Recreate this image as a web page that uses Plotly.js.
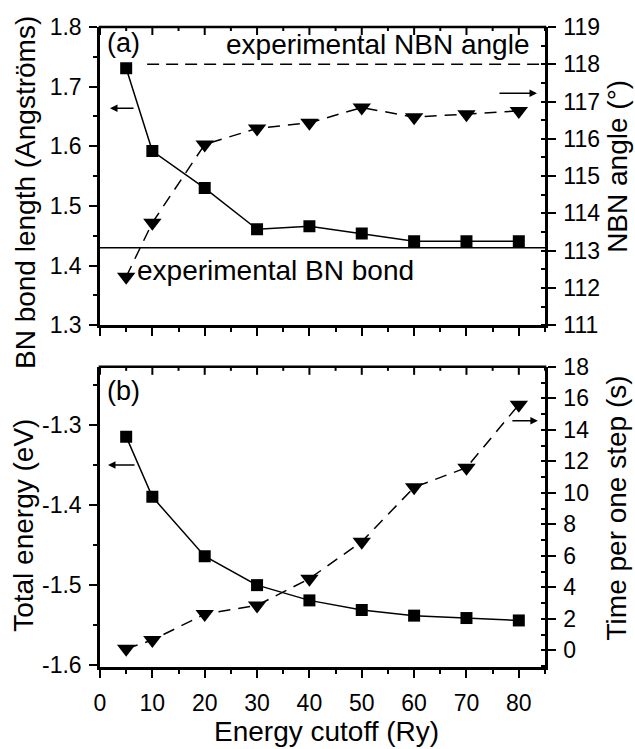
<!DOCTYPE html>
<html>
<head>
<meta charset="utf-8">
<script src="https://cdn.plot.ly/plotly-3.0.1.min.js"></script>
<style>html,body{margin:0;padding:0;background:#fff;}#chart{width:635px;height:749px;}</style>
</head>
<body>
<div id="chart"></div>
<script>
// ---- data ----
const cutoff = [5, 10, 20, 30, 40, 50, 60, 70, 80];
const bondLength = [1.731, 1.592, 1.530, 1.461, 1.466, 1.454, 1.441, 1.441, 1.441];
const nbnAngle = [112.3, 113.75, 115.85, 116.28, 116.43, 116.84, 116.58, 116.66, 116.75];
const totalEnergy = [-1.315, -1.390, -1.464, -1.500, -1.519, -1.531, -1.538, -1.541, -1.544];
const stepTime = [0.1, 0.65, 2.3, 2.85, 4.55, 6.9, 10.35, 11.6, 15.6];
const expBondX = [0, 85];
const expBond = [1.43, 1.43];
const expAngleX = [9, 85];
const expAngle = [118, 118];

const xTickVals = [0, 10, 20, 30, 40, 50, 60, 70, 80];
const xTickText = ['0', '10', '20', '30', '40', '50', '60', '70', '80'];
const bondTickVals = [1.3, 1.4, 1.5, 1.6, 1.7, 1.8];
const bondTickText = ['1.3', '1.4', '1.5', '1.6', '1.7', '1.8'];
const angleTickVals = [111, 112, 113, 114, 115, 116, 117, 118, 119];
const angleTickText = ['111', '112', '113', '114', '115', '116', '117', '118', '119'];
const energyTickVals = [-1.6, -1.5, -1.4, -1.3];
const energyTickText = ['-1.6', '-1.5', '-1.4', '-1.3'];
const timeTickVals = [0, 2, 4, 6, 8, 10, 12, 14, 16, 18];
const timeTickText = ['0', '2', '4', '6', '8', '10', '12', '14', '16', '18'];

// ---- styles ----
const FONT = 'Liberation Sans, Arial, sans-serif';
const black = '#000';
const lineW = 2.5;

const traces = [
  {x: expBondX, y: expBond, xaxis: 'x2', yaxis: 'y3', mode: 'lines',
   line: {color: black, width: 1.5}, hoverinfo: 'skip', showlegend: false},
  {x: cutoff, y: bondLength, xaxis: 'x2', yaxis: 'y3', mode: 'lines+markers',
   line: {color: black, width: 1.5},
   marker: {symbol: 'square', size: 12, color: black}, showlegend: false},
  {x: expAngleX, y: expAngle, xaxis: 'x2', yaxis: 'y4', mode: 'lines',
   line: {color: black, width: 1.5, dash: '12px,7px'}, hoverinfo: 'skip', showlegend: false},
  {x: cutoff, y: nbnAngle, xaxis: 'x2', yaxis: 'y4', mode: 'lines+markers',
   line: {color: black, width: 1.5, dash: '12px,8px'},
   marker: {symbol: 'triangle-down', size: 16, color: black}, showlegend: false},
  {x: cutoff, y: totalEnergy, xaxis: 'x', yaxis: 'y', mode: 'lines+markers',
   line: {color: black, width: 1.5},
   marker: {symbol: 'square', size: 12, color: black}, showlegend: false},
  {x: cutoff, y: stepTime, xaxis: 'x', yaxis: 'y2', mode: 'lines+markers',
   line: {color: black, width: 1.5, dash: '12px,8px'},
   marker: {symbol: 'triangle-down', size: 16, color: black}, showlegend: false}
];

const tickFont = {family: FONT, size: 23, color: black};

function xAxisBase(extra) {
  return Object.assign({
    range: [0, 85], showgrid: false, zeroline: false,
    showline: true, linecolor: black, linewidth: lineW,
    tickmode: 'array', tickvals: xTickVals, ticktext: xTickText,
    ticks: 'outside', ticklen: 8, tickwidth: 2, tickcolor: black,
    minor: {dtick: 5, tick0: 0, ticks: 'outside', ticklen: 4, tickwidth: 2, tickcolor: black},
    tickfont: tickFont
  }, extra);
}
function yAxisBase(extra) {
  return Object.assign({
    showgrid: false, zeroline: false,
    showline: true, linecolor: black, linewidth: lineW,
    tickmode: 'array',
    ticks: 'outside', ticklen: 8, tickwidth: 2, tickcolor: black,
    tickfont: tickFont, ticklabelstandoff: 3
  }, extra);
}

function title(text, x, y, angle) {
  return {text: text, xref: 'paper', yref: 'paper', x: x, y: y, textangle: angle || 0,
    showarrow: false, xanchor: 'center', yanchor: 'middle', font: {size: 28, family: FONT, color: black}};
}
function label(text, x, y, anchor, size) {
  return {text: text, xref: 'paper', yref: 'paper', x: x, y: y, showarrow: false,
    xanchor: anchor, yanchor: 'middle', font: {size: size, family: FONT, color: black}};
}
function arrow(x, y, dx) {
  return {text: '', xref: 'paper', yref: 'paper', x: x, y: y, axref: 'pixel', ayref: 'pixel', ax: dx, ay: 0,
    showarrow: true, arrowhead: 2, arrowsize: 1, arrowwidth: 1.5, arrowcolor: black, standoff: 0, startstandoff: 0};
}

// top frame edge of each panel, with ticks pointing into the plot
// (x positions through the panel's x axis, y in paper units so nothing is clipped)
function topFrame(xref, yTop) {
  const out = [{type: 'line', xref: 'paper', yref: 'paper', x0: -0.003, x1: 1.003, y0: yTop, y1: yTop,
    line: {color: black, width: lineW}}];
  xTickVals.forEach(function(v) {
    out.push({type: 'line', xref: xref, yref: 'paper', x0: v, x1: v, y0: yTop, y1: yTop - 8 / 640,
      line: {color: black, width: 2}});
    out.push({type: 'line', xref: xref, yref: 'paper', x0: v + 5, x1: v + 5, y0: yTop, y1: yTop - 4 / 640,
      line: {color: black, width: 2}});
  });
  return out;
}

const layout = {
  width: 635, height: 749,
  margin: {l: 100, r: 90, t: 27, b: 82},
  showlegend: false,
  // bottom panel
  xaxis: xAxisBase({domain: [0, 1], anchor: 'y', ticklabelstandoff: 6}),
  yaxis: yAxisBase({domain: [0, 0.469], anchor: 'x', range: [-1.602, -1.228],
    tickvals: energyTickVals, ticktext: energyTickText,
    minor: {dtick: 0.05, tick0: -1.6, ticks: 'outside', ticklen: 4, tickwidth: 2, tickcolor: black}}),
  yaxis2: yAxisBase({overlaying: 'y', anchor: 'x', side: 'right', range: [-1.06, 18],
    tickvals: timeTickVals, ticktext: timeTickText,
    minor: {dtick: 1, tick0: 0, ticks: 'inside', ticklen: 4, tickwidth: 2, tickcolor: black}}),
  // top panel
  xaxis2: xAxisBase({domain: [0, 1], anchor: 'y3', showticklabels: false}),
  yaxis3: yAxisBase({domain: [0.534, 1], anchor: 'x2', range: [1.3, 1.8],
    tickvals: bondTickVals, ticktext: bondTickText,
    minor: {dtick: 0.05, tick0: 1.3, ticks: 'outside', ticklen: 4, tickwidth: 2, tickcolor: black}}),
  yaxis4: yAxisBase({overlaying: 'y3', anchor: 'x2', side: 'right', range: [111, 119],
    tickvals: angleTickVals, ticktext: angleTickText,
    minor: {dtick: 0.5, tick0: 111, ticks: 'inside', ticklen: 4, tickwidth: 2, tickcolor: black}}),
  shapes: topFrame('x2', 1).concat(topFrame('x', 0.469)),
  annotations: [
    // axis titles
    title('BN bond length (Angströms)', -0.1685, 0.7406, -90),
    title('Total energy (eV)', -0.171, 0.222, -90),
    title('NBN angle (°)', 1.164, 0.783, -90),
    title('Time per one step (s)', 1.160, 0.248, -90),
    title('Energy cutoff (Ry)', 0.508, -0.100, 0),
    // panel labels and reference texts
    label('(a)', 0.012, 0.975, 'left', 27),
    label('(b)', 0.012, 0.4315, 'left', 27),
    label('experimental NBN angle', 0.97, 0.972, 'right', 28),
    label('experimental BN bond', 0.079, 0.6202, 'left', 28),
    // arrows pointing to the axis each series uses
    arrow(0.0225, 0.873, 25),
    arrow(0.982, 0.8964, -39),
    arrow(0.018, 0.3156, 28),
    arrow(0.984, 0.3848, -27)
  ]
};

Plotly.newPlot('chart', traces, layout, {displayModeBar: false});
</script>
</body>
</html>
